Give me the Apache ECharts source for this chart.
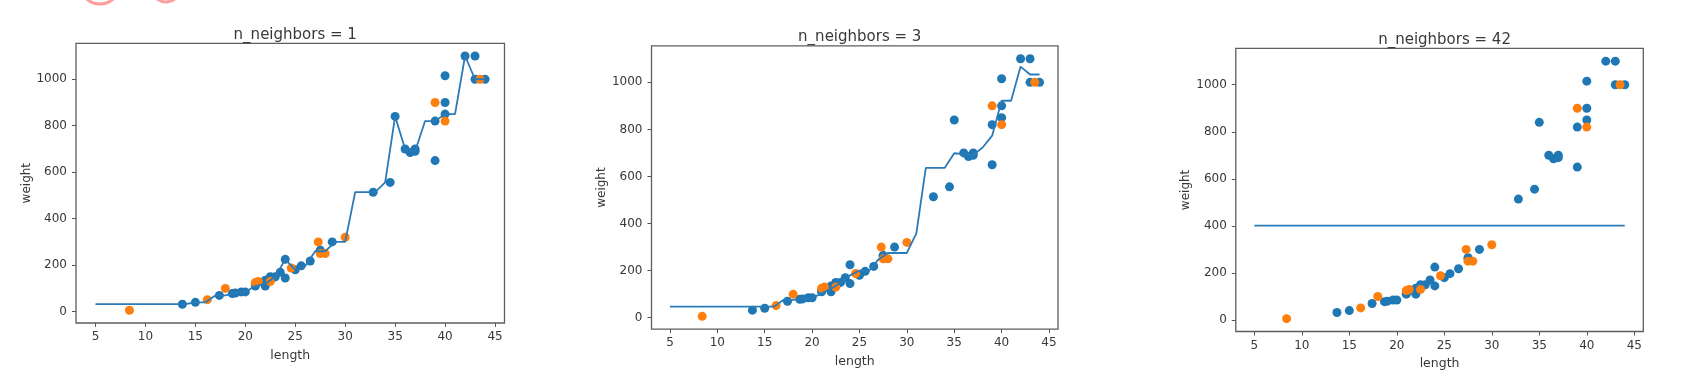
<!DOCTYPE html>
<html>
<head>
<meta charset="utf-8">
<script src="https://cdn.jsdelivr.net/npm/echarts@6/dist/echarts.min.js"></script>
<style>
html,body{margin:0;padding:0;background:#fff;}
#chart{width:1696px;height:386px;}
</style>
</head>
<body>
<div id="chart"></div>
<script>
// ---- data ----
const trainLength = [13.7, 15.0, 17.4, 18.7, 19.0, 19.6, 20.0, 21.0, 21.0, 22.0, 22.0, 22.0, 22.0, 22.0, 22.5, 22.7, 23.0, 23.5, 24.0, 24.0, 25.0, 25.6, 26.5, 27.5, 27.5, 28.7, 32.8, 34.5, 35.0, 36.5, 36.0, 37.0, 37.0, 39.0, 39.0, 40.0, 40.0, 40.0, 42.0, 43.0, 43.0, 44.0];
const trainWeight = [32, 40, 70, 78, 80, 85, 85, 110, 115, 120, 120, 130, 135, 110, 150, 145, 150, 170, 225, 145, 180, 197, 218, 260, 265, 300, 514, 556, 840, 685, 700, 700, 690, 650, 820, 850, 900, 1015, 1100, 1000, 1100, 1000];
const testLength = [8.4, 18.0, 27.5, 21.3, 22.5, 40.0, 30.0, 24.6, 39.0, 21.0, 43.5, 16.2, 28.0, 27.3];
const testWeight = [5.9, 100, 250, 130, 130, 820, 320, 188, 900, 125, 1000, 51.5, 250, 300];
const lineX = [5, 6, 7, 8, 9, 10, 11, 12, 13, 14, 15, 16, 17, 18, 19, 20, 21, 22, 23, 24, 25, 26, 27, 28, 29, 30, 31, 32, 33, 34, 35, 36, 37, 38, 39, 40, 41, 42, 43, 44];
const pred1 = [32, 32, 32, 32, 32, 32, 32, 32, 32, 32, 40, 40, 70, 70, 80, 85, 110, 120, 150, 225, 180, 197, 260, 260, 300, 300, 514, 514, 514, 556, 840, 700, 690, 820, 820, 850, 850, 1100, 1000, 1000];
const pred3 = [47.3, 47.3, 47.3, 47.3, 47.3, 47.3, 47.3, 47.3, 47.3, 47.3, 47.3, 47.3, 76, 76, 81, 83.3, 103.3, 123.3, 148.3, 180, 200.7, 198.3, 247.7, 275, 275, 275, 358, 636.7, 636.7, 636.7, 698.7, 695, 691.7, 723.3, 773.3, 921.7, 921.7, 1066.7, 1033.3, 1033.3];
const pred42 = [400.8, 400.8, 400.8, 400.8, 400.8, 400.8, 400.8, 400.8, 400.8, 400.8, 400.8, 400.8, 400.8, 400.8, 400.8, 400.8, 400.8, 400.8, 400.8, 400.8, 400.8, 400.8, 400.8, 400.8, 400.8, 400.8, 400.8, 400.8, 400.8, 400.8, 400.8, 400.8, 400.8, 400.8, 400.8, 400.8, 400.8, 400.8, 400.8, 400.8];
const titles = ['n_neighbors = 1', 'n_neighbors = 3', 'n_neighbors = 42'];
const xTicks = [5, 10, 15, 20, 25, 30, 35, 40, 45];
const yTicks = [0, 200, 400, 600, 800, 1000];
const xName = 'length';
const yName = 'weight';

// ---- layout ----
const panels = [
  {left: 76, right: 504.5, top: 43.3, bottom: 323, pred: pred1},
  {left: 651.5, right: 1058, top: 45.9, bottom: 329.2, pred: pred3},
  {left: 1235.8, right: 1643.3, top: 48.3, bottom: 331.5, pred: pred42}
];
const FONT = 'DejaVu Sans';
const BLUE = '#1f77b4', ORANGE = '#ff7f0e';
const TXT = '#383838';
const zip = (a, b) => a.map((v, i) => [v, b[i]]);

const grid = [], xAxis = [], yAxis = [], series = [], title = [];
panels.forEach((p, i) => {
  grid.push({left: p.left, top: p.top, width: p.right - p.left, height: p.bottom - p.top,
    show: true, borderColor: '#5e5e5e', borderWidth: 1.3, backgroundColor: 'transparent'});
  title.push({text: titles[i], left: (p.left + p.right) / 2, top: p.top - 21, textAlign: 'center',
    textStyle: {fontFamily: FONT, fontSize: 15, fontWeight: 'normal', color: TXT}});
  xAxis.push({type: 'value', gridIndex: i, min: 3.05, max: 45.95,
    name: xName, nameLocation: 'middle', nameGap: 26,
    nameTextStyle: {fontFamily: FONT, fontSize: 12.5, color: TXT},
    axisLine: {show: false, onZero: false}, splitLine: {show: false},
    axisTick: {show: true, length: 4, customValues: xTicks, lineStyle: {color: '#555'}},
    axisLabel: {customValues: xTicks, margin: 8, fontFamily: FONT, fontSize: 12, color: TXT,
      formatter: v => String(v)}});
  yAxis.push({type: 'value', gridIndex: i, min: -48.8, max: 1154.7,
    name: yName, nameLocation: 'middle', nameGap: 43,
    nameTextStyle: {fontFamily: FONT, fontSize: 12, color: TXT},
    axisLine: {show: false, onZero: false}, splitLine: {show: false},
    axisTick: {show: true, length: 4, customValues: yTicks, lineStyle: {color: '#555'}},
    axisLabel: {customValues: yTicks, margin: 9, fontFamily: FONT, fontSize: 12, color: TXT,
      formatter: v => String(v)}});
  series.push({type: 'scatter', xAxisIndex: i, yAxisIndex: i, data: zip(trainLength, trainWeight),
    symbolSize: 9, itemStyle: {color: BLUE, opacity: 1}, z: 2, silent: true});
  series.push({type: 'scatter', xAxisIndex: i, yAxisIndex: i, data: zip(testLength, testWeight),
    symbolSize: 9, itemStyle: {color: ORANGE, opacity: 1}, z: 3, silent: true});
  series.push({type: 'line', xAxisIndex: i, yAxisIndex: i, data: zip(lineX, p.pred),
    showSymbol: false, lineStyle: {color: '#2b7bb9', width: 1.8}, z: 4, silent: true, animation: false});
});

const chart = echarts.init(document.getElementById('chart'));
chart.setOption({
  animation: false,
  backgroundColor: '#fff',
  title, grid, xAxis, yAxis, series,
  graphic: [
    {type: 'arc', shape: {cx: 100, cy: -16, r: 20, startAngle: Math.PI * 0.25, endAngle: Math.PI * 0.75},
      style: {stroke: '#ff5a5a', lineWidth: 3, fill: null, opacity: 0.6}},
    {type: 'arc', shape: {cx: 166, cy: -12, r: 14, startAngle: Math.PI * 0.2, endAngle: Math.PI * 0.8},
      style: {stroke: '#ff5a5a', lineWidth: 3, fill: null, opacity: 0.6}}
  ]
});
</script>
</body>
</html>
